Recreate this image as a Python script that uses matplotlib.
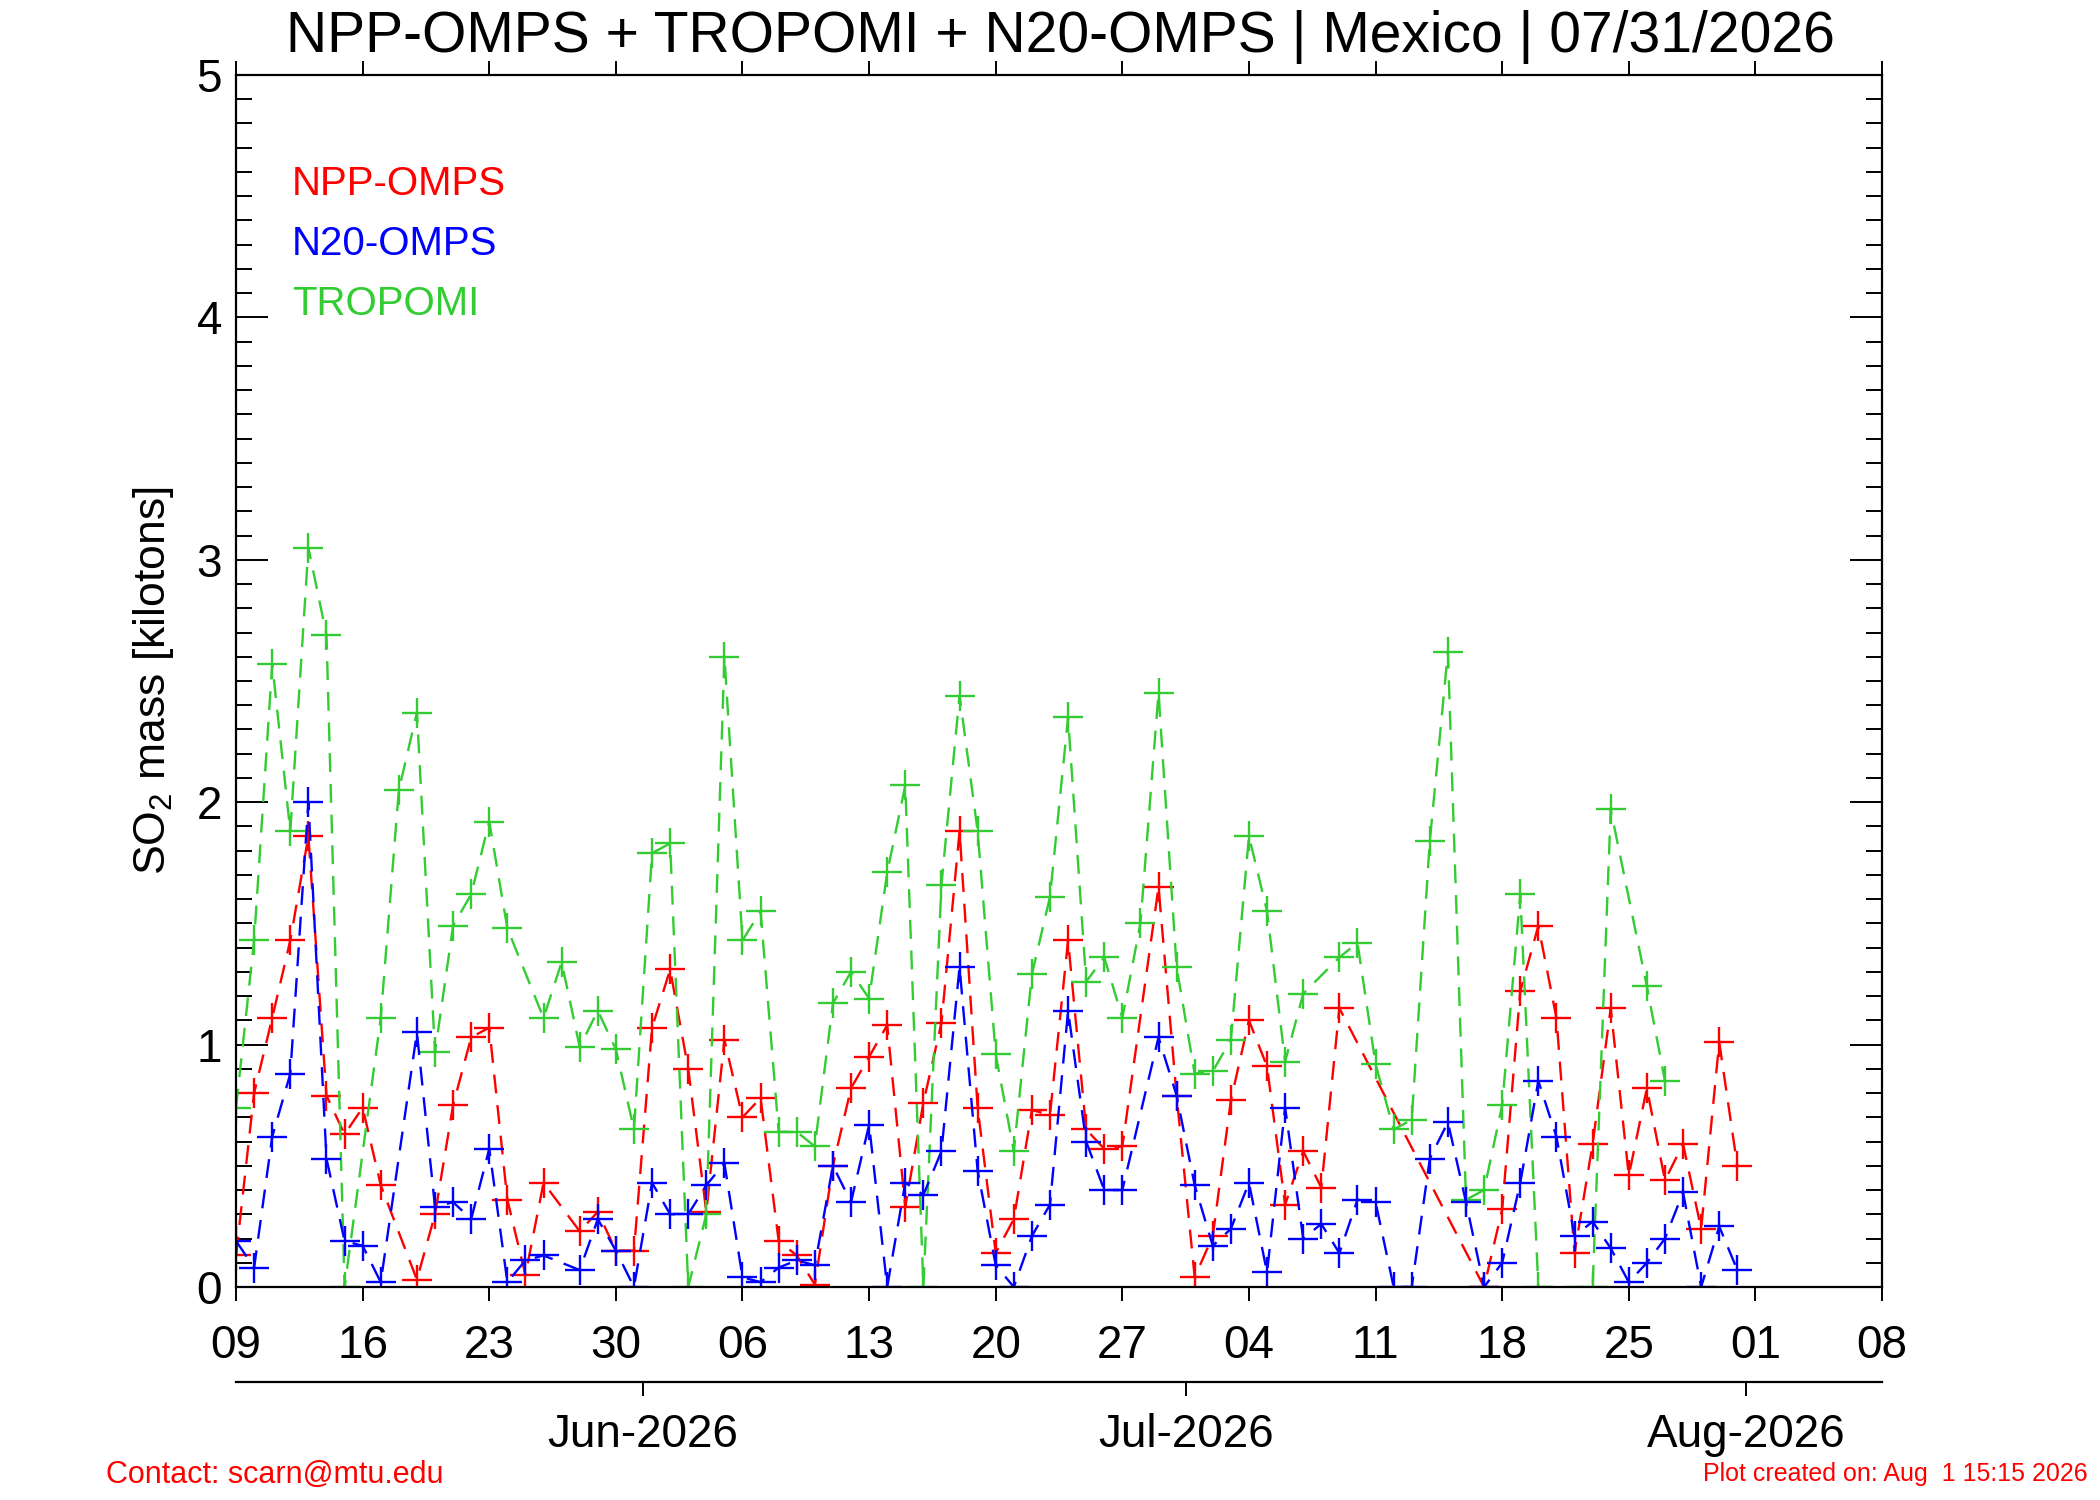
import numpy as np
import matplotlib
matplotlib.use("Agg")
import matplotlib.pyplot as plt
import matplotlib.dates as mdates
from matplotlib.ticker import MultipleLocator

plt.rcParams['font.family'] = ['Liberation Sans', 'DejaVu Sans']
plt.rcParams['mathtext.default'] = 'regular'

# one value per day, 09 May 2026 .. 31 Jul 2026 (nan = no data that day)
nan = np.nan
npp_omps = [0.13, 0.80, 1.11, 1.43, 1.86, 0.79, 0.63, 0.74, 0.42, nan,
            0.03, 0.30, 0.75, 1.03, 1.07, 0.36, 0.05, 0.43, nan, 0.23,
            0.31, 0.15, 0.15, 1.07, 1.31, 0.90, 0.31, 1.02, 0.70, 0.78,
            0.19, 0.13, 0.01, 0.50, 0.82, 0.95, 1.08, 0.33, 0.76, 1.09,
            1.88, 0.74, 0.14, 0.28, 0.73, 0.71, 1.43, 0.65, 0.57, 0.58,
            nan, 1.65, 0.79, 0.04, 0.21, 0.77, 1.10, 0.91, 0.34, 0.56,
            0.41, 1.15, nan, nan, nan, nan, nan, nan, nan, 0.00,
            0.32, 1.22, 1.49, 1.11, 0.14, 0.59, 1.15, 0.46, 0.82, 0.44,
            0.59, 0.24, 1.01, 0.50]
n20_omps = [0.19, 0.08, 0.62, 0.88, 2.00, 0.53, 0.19, 0.17, 0.02, nan,
            1.05, 0.33, 0.35, 0.28, 0.57, 0.02, 0.11, 0.13, nan, 0.07,
            0.28, 0.15, 0.00, 0.43, 0.30, 0.30, 0.42, 0.51, 0.04, 0.02,
            0.08, 0.11, 0.09, 0.50, 0.35, 0.67, 0.00, 0.43, 0.38, 0.56,
            1.32, 0.48, 0.09, 0.00, 0.21, 0.34, 1.14, 0.60, 0.40, 0.40,
            nan, 1.03, 0.79, 0.42, 0.17, 0.24, 0.43, 0.06, 0.74, 0.20,
            0.26, 0.14, 0.36, 0.35, 0.00, 0.00, 0.53, 0.68, 0.35, 0.00,
            0.10, 0.43, 0.85, 0.62, 0.21, 0.27, 0.16, 0.02, 0.10, 0.20,
            0.39, 0.00, 0.25, 0.07]
tropomi = [0.74, 1.43, 2.57, 1.88, 3.05, 2.69, 0.00, nan, 1.11, 2.05,
           2.37, 0.97, 1.49, 1.62, 1.92, 1.48, nan, 1.11, 1.34, 0.99,
           1.14, 0.98, 0.65, 1.79, 1.83, 0.00, 0.30, 2.60, 1.43, 1.55,
           0.64, 0.64, 0.58, 1.17, 1.30, 1.19, 1.71, 2.07, 0.00, 1.66,
           2.44, 1.88, 0.96, 0.56, 1.29, 1.61, 2.35, 1.26, 1.36, 1.11,
           1.50, 2.45, 1.32, 0.88, 0.89, 1.02, 1.86, 1.55, 0.93, 1.21,
           nan, 1.36, 1.42, 0.92, 0.65, 0.69, 1.84, 2.62, 0.36, 0.40,
           0.75, 1.62, 0.00, nan, nan, 0.00, 1.97, nan, 1.24, 0.85,
           nan, nan, nan, nan]

series = [("NPP-OMPS", npp_omps, "#ff0000"),
          ("TROPOMI", tropomi, "#33cc33"),
          ("N20-OMPS", n20_omps, "#0000ff")]
legend_order = ["NPP-OMPS", "N20-OMPS", "TROPOMI"]

days = np.arange(np.datetime64("2026-05-09"), np.datetime64("2026-08-01"))
week_ticks = np.arange(np.datetime64("2026-05-09"), np.datetime64("2026-08-09"), 7)
months = ["2026-06-01", "2026-07-01", "2026-08-01"]
month_labels = ["Jun-2026", "Jul-2026", "Aug-2026"]

fig = plt.figure(figsize=(21, 15), dpi=100)
ax = fig.add_axes([0.1124, 0.142, 0.7838, 0.808])

colors = {}
for name, vals, col in series:
    v = np.array(vals, dtype=float)
    ok = ~np.isnan(v)
    ax.plot(days[ok], v[ok], color=col, linestyle="--", dashes=(8, 5), lw=1.7,
            marker="+", ms=22, mew=1.7)
    colors[name] = col

ax.set_xlim(np.datetime64("2026-05-09"), np.datetime64("2026-08-08"))
ax.set_ylim(0, 5)
ax.set_xticks(week_ticks)
ax.xaxis.set_major_formatter(mdates.DateFormatter("%d"))
ax.yaxis.set_major_locator(MultipleLocator(1))
ax.yaxis.set_minor_locator(MultipleLocator(0.1))

for s in ax.spines.values():
    s.set_linewidth(1.6)
ax.tick_params(axis="x", which="both", direction="out", top=True, bottom=True,
               length=10, width=1.4, labelsize=33, pad=17)
ax.tick_params(axis="y", which="major", direction="in", left=True, right=True,
               length=23, width=1.4, labelsize=33, pad=10)
ax.tick_params(axis="y", which="minor", direction="in", left=True, right=True,
               length=11.5, width=1.4)
ylabs = ax.get_yticklabels()
ylabs[0].set_verticalalignment("bottom")
ylabs[-1].set_verticalalignment("top")

# month axis under the day axis
sec = ax.secondary_xaxis(-0.078)
sec.set_xticks([np.datetime64(m) - np.timedelta64(12, "h") for m in months])
sec.set_xticklabels(month_labels)
sec.spines["bottom"].set_linewidth(1.6)
sec.tick_params(axis="x", direction="out", length=10, width=1.4, labelsize=33, pad=13)

for i, name in enumerate(legend_order):
    ax.text(0.034, 0.91 - 0.0495 * i, name, transform=ax.transAxes, color=colors[name],
            fontsize=29, va="center", ha="left")

fig.text(0.505, 0.965, "NPP-OMPS + TROPOMI + N20-OMPS | Mexico | 07/31/2026",
         fontsize=41, ha="center", va="baseline")
fig.text(0.073, 0.546, "SO$_2$ mass [kilotons]", rotation=90, fontsize=32,
         ha="center", va="center")
fig.text(0.0506, 0.017, "Contact: scarn@mtu.edu", color="red", fontsize=22,
         ha="left", va="center")
fig.text(0.994, 0.017, "Plot created on: Aug  1 15:15 2026", color="red", fontsize=18,
         ha="right", va="center")

fig.savefig("out.png", dpi=100)
